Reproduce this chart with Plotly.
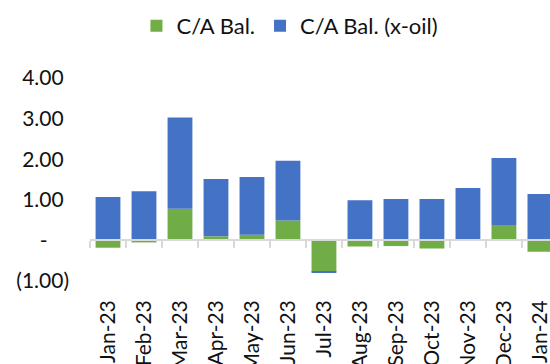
import plotly.graph_objects as go

# Monthly current-account balance, split into total and ex-oil component
months = ["Jan-23", "Feb-23", "Mar-23", "Apr-23", "May-23", "Jun-23", "Jul-23",
          "Aug-23", "Sep-23", "Oct-23", "Nov-23", "Dec-23", "Jan-24"]
ca_bal = [-0.18, -0.05, 0.78, 0.10, 0.14, 0.49, -0.77, -0.15, -0.14, -0.20, 0.01, 0.38, -0.28]
ca_bal_xoil = [1.07, 1.21, 2.25, 1.41, 1.42, 1.47, -0.03, 0.99, 1.02, 1.02, 1.28, 1.65, 1.14]

y_ticks = [-1, 0, 1, 2, 3, 4]
y_ticktext = ["(1.00)", "-\u00a0\u00a0\u00a0\u00a0", "1.00\u00a0", "2.00\u00a0", "3.00\u00a0", "4.00\u00a0"]

GREEN = "#70AD47"
BLUE = "#4472C4"
AXIS_GREY = "#D9D9D9"
FAMILY = "Lato, 'Open Sans', sans-serif"
TEXT = "#111111"

x_pos = list(range(len(months)))

fig = go.Figure()
fig.add_trace(go.Bar(x=x_pos, y=ca_bal, name="C/A Bal.",
                     marker=dict(color=GREEN, line=dict(width=0))))
fig.add_trace(go.Bar(x=x_pos, y=ca_bal_xoil, name="C/A Bal. (x-oil)",
                     marker=dict(color=BLUE, line=dict(width=0))))
# invisible carrier so the boundary-tick axis gets drawn
fig.add_trace(go.Scatter(x=[0], y=[0], xaxis="x2", yaxis="y", mode="markers",
                         marker=dict(opacity=0), showlegend=False, hoverinfo="skip"))

y_min, y_max = -1, 4
x_range = [-0.5, 12.28]

fig.update_layout(
    width=550, height=364,
    margin=dict(l=90, r=0, t=78, b=83, autoexpand=False),
    barmode="relative",
    bargap=0.31,
    plot_bgcolor="white",
    paper_bgcolor="white",
    font=dict(family=FAMILY, size=21, color=TEXT),
    showlegend=True,
    legend=dict(orientation="h", x=0.101, xanchor="left", y=1.256, yanchor="middle",
                font=dict(family=FAMILY, size=22, color=TEXT), traceorder="normal"),
    xaxis=dict(range=x_range, tickmode="array", tickvals=x_pos,
               ticktext=months, tickangle=-90, showline=False, showgrid=False,
               zeroline=False, ticks="", ticklabelstandoff=14,
               ticklabeloverflow="allow", automargin=False,
               tickfont=dict(family=FAMILY, size=21, color=TEXT)),
    yaxis=dict(range=[y_min, y_max], tickmode="array", tickvals=y_ticks,
               ticktext=y_ticktext, showgrid=False, showline=False,
               zeroline=False, ticks="", ticklabelstandoff=20, automargin=False,
               tickfont=dict(family=FAMILY, size=21, color=TEXT)),
    # zero-line axis with category boundary ticks
    xaxis2=dict(overlaying="x", anchor="free",
                position=(0 - y_min) / (y_max - y_min),
                range=x_range, tickmode="array",
                tickvals=[i - 0.5 for i in range(len(months) + 1)],
                ticks="outside", ticklen=7, tickwidth=2, tickcolor=AXIS_GREY,
                showticklabels=False, showgrid=False, zeroline=False,
                showline=True, linecolor=AXIS_GREY, linewidth=2,
                layer="above traces", automargin=False),
)

fig.write_html("out.html")
